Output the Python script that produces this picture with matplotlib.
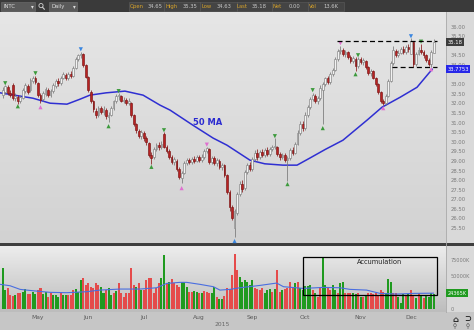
import numpy as np
import pandas as pd
import matplotlib
matplotlib.use("Agg")
import matplotlib.pyplot as plt
from matplotlib.colors import LinearSegmentedColormap
from matplotlib.patches import Rectangle, Circle

# trading days on the chart (US market holidays taken out)
holidays = ["2015-05-25", "2015-07-03", "2015-09-07", "2015-11-26"]
days = pd.bdate_range("2015-04-13", "2015-12-14", freq="C", holidays=holidays)

opens = [32.45, 32.60, 32.85, 32.55, 32.95, 32.30, 32.35, 32.10, 32.30, 32.65,
         32.90, 32.70, 33.15, 33.30, 33.05, 32.45, 32.25, 32.50, 32.70, 32.45,
         32.65, 32.90, 33.15, 33.05, 33.35, 33.50, 33.30, 33.55, 33.45, 33.85,
         34.30, 34.50, 34.60, 34.00, 33.40, 32.60, 32.10, 31.60, 31.40, 31.75,
         31.55, 31.65, 31.30, 31.40, 31.75, 32.10, 32.40, 32.40, 32.15, 32.20,
         32.00, 32.00, 31.40, 30.90, 30.55, 30.30, 30.45, 30.20, 29.95, 29.30,
         29.20, 29.60, 29.85, 29.70, 30.40, 29.75, 29.50, 29.20, 28.95, 29.00,
         28.60, 28.10, 28.35, 28.90, 29.05, 28.95, 29.10, 29.00, 29.20, 29.05,
         29.20, 29.50, 29.60, 28.95, 29.15, 28.90, 29.00, 28.70, 28.80, 28.25,
         27.40, 26.60, 25.50, 26.30, 27.30, 27.80, 27.60, 28.40, 28.80, 28.60,
         29.10, 29.40, 29.20, 29.45, 29.30, 29.55, 29.35, 29.60, 29.70, 29.75,
         29.35, 29.20, 29.30, 29.05, 29.15, 29.55, 29.40, 29.90, 30.45, 30.90,
         30.70, 31.40, 31.80, 32.25, 32.40, 32.10, 32.30, 32.70, 33.00, 33.30,
         33.10, 33.55, 33.75, 34.30, 34.75, 34.80, 34.55, 34.70, 34.40, 34.20,
         34.30, 33.95, 34.30, 34.15, 34.20, 33.90, 33.60, 33.70, 33.35, 33.00,
         32.60, 32.10, 32.00, 32.40, 33.15, 34.10, 34.75, 34.50, 34.65, 34.85,
         34.70, 34.95, 34.60, 35.20, 34.05, 34.60, 34.80, 34.70, 34.50, 34.25,
         34.05, 34.65]
highs = [32.85, 32.95, 32.95, 32.70, 33.05, 32.55, 32.45, 32.45, 32.80, 33.05,
         33.00, 33.30, 33.45, 33.45, 33.10, 32.55, 32.65, 32.85, 32.80, 32.75,
         33.05, 33.25, 33.30, 33.45, 33.65, 33.60, 33.65, 33.70, 33.95, 34.40,
         34.60, 34.70, 34.65, 34.05, 33.45, 32.70, 32.20, 31.75, 31.85, 31.85,
         31.85, 31.75, 31.55, 31.85, 32.20, 32.50, 32.55, 32.45, 32.35, 32.30,
         32.30, 32.05, 31.45, 31.00, 30.65, 30.60, 30.55, 30.30, 30.00, 29.45,
         29.70, 29.95, 30.00, 30.05, 30.50, 29.85, 29.60, 29.30, 29.20, 29.10,
         28.70, 28.45, 29.00, 29.15, 29.15, 29.20, 29.25, 29.30, 29.30, 29.35,
         29.60, 29.72, 29.65, 29.25, 29.25, 29.15, 29.10, 28.90, 28.85, 28.30,
         27.50, 26.70, 26.50, 27.40, 27.95, 28.00, 28.55, 28.90, 28.95, 29.20,
         29.55, 29.60, 29.55, 29.60, 29.65, 29.70, 29.75, 29.85, 30.20, 29.80,
         29.45, 29.40, 29.40, 29.25, 29.65, 29.70, 30.00, 30.60, 31.10, 31.10,
         31.55, 31.90, 32.35, 32.55, 32.50, 32.40, 32.95, 33.10, 33.40, 33.45,
         33.65, 33.85, 34.40, 34.85, 35.00, 34.90, 34.80, 34.75, 34.50, 34.45,
         34.40, 34.40, 34.40, 34.35, 34.25, 33.95, 33.80, 33.75, 33.40, 33.05,
         32.65, 32.25, 32.50, 33.25, 34.20, 35.00, 34.85, 34.80, 34.95, 35.00,
         35.05, 35.10, 35.40, 35.25, 34.70, 34.95, 35.10, 34.80, 34.60, 34.35,
         34.80, 35.35]
lows = [32.30, 32.50, 32.45, 32.35, 32.20, 32.15, 31.95, 32.00, 32.25, 32.55,
        32.50, 32.60, 33.05, 33.00, 32.35, 32.00, 32.15, 32.40, 32.35, 32.35,
        32.55, 32.80, 32.90, 32.95, 33.25, 33.20, 33.20, 33.35, 33.40, 33.80,
        34.20, 34.35, 33.90, 33.30, 32.60, 32.00, 31.55, 31.25, 31.30, 31.45,
        31.40, 31.20, 31.05, 31.35, 31.65, 32.00, 32.20, 32.05, 32.00, 31.90,
        31.90, 31.30, 30.80, 30.45, 30.20, 30.15, 30.05, 29.85, 29.20, 28.85,
        29.10, 29.50, 29.55, 29.60, 29.65, 29.40, 29.10, 28.85, 28.80, 28.50,
        28.05, 27.85, 28.30, 28.80, 28.85, 28.85, 28.90, 28.95, 28.95, 28.95,
        29.10, 29.40, 28.85, 28.85, 28.80, 28.75, 28.60, 28.55, 28.15, 27.30,
        26.40, 25.90, 25.05, 26.20, 27.15, 27.40, 27.50, 28.30, 28.45, 28.50,
        29.00, 29.05, 29.10, 29.20, 29.20, 29.25, 29.25, 29.50, 29.60, 29.25,
        29.05, 29.10, 28.95, 27.95, 29.05, 29.30, 29.35, 29.85, 30.35, 30.55,
        30.60, 31.30, 31.70, 32.15, 32.00, 31.95, 32.20, 30.90, 32.90, 33.00,
        33.00, 33.45, 33.70, 34.20, 34.60, 34.45, 34.40, 34.30, 34.10, 34.10,
        33.70, 33.85, 34.05, 34.00, 33.80, 33.50, 33.45, 33.25, 32.90, 32.50,
        32.00, 31.90, 31.90, 32.35, 33.10, 34.00, 34.40, 34.40, 34.55, 34.60,
        34.60, 34.70, 34.55, 33.90, 33.95, 34.50, 34.60, 34.35, 34.15, 33.95,
        33.90, 34.63]
closes = [32.70, 32.90, 32.55, 32.45, 32.30, 32.40, 32.10, 32.35, 32.70, 32.95,
          32.60, 33.20, 33.35, 33.10, 32.45, 32.20, 32.55, 32.75, 32.45, 32.65,
          32.95, 33.15, 33.05, 33.35, 33.55, 33.30, 33.55, 33.45, 33.85, 34.30,
          34.50, 34.60, 34.00, 33.40, 32.70, 32.10, 31.70, 31.40, 31.75, 31.55,
          31.70, 31.35, 31.40, 31.75, 32.10, 32.40, 32.45, 32.15, 32.20, 32.00,
          32.15, 31.40, 30.90, 30.60, 30.30, 30.50, 30.20, 30.00, 29.30, 29.15,
          29.60, 29.85, 29.70, 29.90, 29.75, 29.50, 29.20, 28.95, 29.10, 28.60,
          28.15, 28.35, 28.90, 29.05, 28.95, 29.10, 29.00, 29.20, 29.05, 29.20,
          29.50, 29.65, 28.95, 29.15, 28.90, 29.05, 28.70, 28.80, 28.25, 27.40,
          26.60, 26.00, 26.40, 27.30, 27.80, 27.55, 28.40, 28.80, 28.60, 29.10,
          29.40, 29.20, 29.45, 29.30, 29.55, 29.35, 29.60, 29.70, 29.80, 29.35,
          29.20, 29.30, 29.05, 29.15, 29.55, 29.40, 29.90, 30.45, 30.90, 30.70,
          31.40, 31.80, 32.25, 32.45, 32.10, 32.30, 32.80, 33.00, 33.30, 33.10,
          33.55, 33.75, 34.30, 34.75, 34.80, 34.55, 34.70, 34.40, 34.20, 34.35,
          33.95, 34.30, 34.15, 34.25, 33.90, 33.60, 33.70, 33.35, 33.00, 32.60,
          32.10, 32.00, 32.40, 33.15, 34.10, 34.80, 34.50, 34.65, 34.85, 34.70,
          34.95, 34.85, 35.25, 34.05, 34.60, 34.80, 34.70, 34.50, 34.25, 34.05,
          34.70, 35.18]

volumes = [62400, 29100, 31700, 21500, 19900, 21500, 24000, 24000, 26600, 30200,
           23000, 23000, 26600, 23000, 29100, 31700, 23000, 26600, 18900, 25100,
           21500, 21500, 17900, 24000, 21500, 21500, 21500, 21500, 29100, 30200,
           26600, 44500, 47100, 36800, 39400, 34300, 31700, 39400, 36800, 33200,
           24000, 29100, 31700, 21500, 24000, 28100, 39400, 25100, 18900, 24000,
           24000, 62400, 36800, 34300, 39400, 29100, 29100, 44500, 47100, 47100,
           24000, 31700, 40400, 47100, 82800, 39400, 41900, 45500, 39400, 36800,
           34300, 41900, 41900, 34300, 26600, 26600, 28100, 26600, 25100, 24000,
           28100, 26600, 24000, 24000, 33200, 18900, 14800, 14800, 19900, 31700,
           30200, 52100, 84400, 59800, 48600,
           41900, 44500, 41900, 36800, 44500, 31700, 30200, 29100, 31700, 24000,
           29100, 30200, 26600, 30200, 59800, 26600, 29100, 30200, 31700, 41900,
           34300, 39400, 41900, 31700, 29100, 35300, 35300, 36800, 29100, 24000,
           18900, 34300, 77700, 36800, 34300, 29100, 36800, 29100, 24000, 39400,
           41900, 24000, 25100, 24000, 24000, 23000, 24000, 18900, 18900, 21500,
           24000, 24000, 23000, 24000, 21500, 29100, 26600, 24000, 45500, 41900,
           24000, 24000, 18900, 8700, 23000, 21500, 23000, 29100, 21500, 16400,
           24000, 19900, 16400, 21500, 18900, 24000, 23000]
# g = up-volume bar, r = down-volume bar
vol_dir = ("ggrrrgrrgg rrggrrggrr gggrggrrrg ggrrrrrrrg grggrgrrrr "
           "rrrgrgrrrr rrrggrgrrr rgggrrggrg rrrggrggrr rrrrg "
           "gggggrrrrg ggrgrrgrrr rgrgggggrg rrggrrggrg grrrggrgrg "
           "rrrrrrrggg rrgggrgrrg rgrgggg").replace(" ", "")

# 50 day moving average
ma_idx = [-1, 12, 18.8, 25.5, 30.7, 34.6, 41, 48.5, 55.7, 62.4, 66.4, 75.5, 83.5,
          89, 98.1, 104, 111.2, 116.8, 121.9, 128, 135, 144.6, 150.5, 157.7,
          164.4, 170.4]
ma_val = [32.55, 32.27, 32.01, 31.96, 32.22, 32.43, 32.55, 32.64, 32.43, 31.91,
          31.65, 30.86, 30.19, 29.82, 29.04, 28.85, 28.78, 28.78, 29.15, 29.60,
          30.08, 31.13, 31.80, 32.32, 32.84, 33.78]

# volume average line
vma_idx = [-1, 2.9, 6.9, 12, 18.8, 25.4, 33.3, 38.6, 46.5, 54.5, 61.1, 65.1, 70.4,
           73, 78.3, 83.6, 86.2, 90.2, 94.2, 102.1, 108.7, 111.4, 119.3, 127.2,
           133.8, 137.8, 144.4, 149.7, 156.3, 162.9, 170.9]
vma_val = [37900, 35800, 30200, 28100, 25600, 25100, 26600, 29100, 30700, 30700,
           32700, 39400, 41000, 41000, 37900, 34300, 29100, 30200, 32700, 36300,
           39900, 34300, 31700, 33200, 32700, 30200, 29100, 24000, 23000, 24000,
           24365]

# swing markers: g green, p pink, b blue
top_idx = [1, 13, 31, 46, 64, 81, 108, 123, 134, 141, 162, 166]
top_px = [33.05, 33.57, 34.82, 32.64, 30.60, 29.85, 30.29, 32.69, 35.14, 34.51, 35.50, 35.22]
top_kind = "ggbggpggpgbg"
bot_idx = [6, 15, 42, 59, 71, 92, 113, 127, 140, 151, 170]
bot_px = [31.85, 31.80, 30.81, 28.69, 27.58, 24.82, 27.79, 30.71, 33.52, 31.75, 33.78]
bot_kind = "gpggpbgggpp"

price_ticks = [36.0, 35.5, 34.5, 34.0, 33.0, 32.5, 32.0, 31.5, 31.0, 30.5, 30.0,
               29.5, 29.0, 28.5, 28.0, 27.5, 27.0, 26.5, 26.0, 25.5]
last_price = 35.18
last_ma = 33.7753
last_vma = 24365
top_line = 35.24
bot_line = 33.90

o = np.array(opens); h = np.array(highs); l = np.array(lows); c = np.array(closes)
x = np.arange(len(days))
up = c >= o
kind_col = {"g": "#3c9a3c", "p": "#e070d0", "b": "#3a86e0"}

fig = plt.figure(figsize=(4.74, 3.30), dpi=100, facecolor="#c6c6c6")

# window chrome in pixel units
bg = fig.add_axes([0, 0, 1, 1])
bg.set_xlim(0, 474); bg.set_ylim(330, 0); bg.axis("off")
bg.add_patch(Rectangle((0, 0), 474, 12.3, fc="#3a3a3a", ec="none"))
bg.add_patch(Rectangle((446, 12.3), 28, 300, fc="#d9d9d9", ec="none"))
bg.add_patch(Rectangle((0, 243), 474, 3.2, fc="#3e3e3e", ec="none"))
bg.plot([446, 446], [12.3, 312], color="#a8a8a8", lw=0.6)
bg.add_patch(Rectangle((1, 2), 34, 8.5, fc="#5a5a5a", ec="#707070", lw=0.4))
bg.text(4, 6.3, "INTC", color="#dddddd", fontsize=3.8, va="center")
bg.text(32, 6.3, "▾", color="#dddddd", fontsize=4, va="center", ha="center")
bg.add_patch(Circle((41, 5.6), 2.1, fc="none", ec="#cfcfcf", lw=0.6))
bg.plot([42.5, 44.3], [7.2, 9.2], color="#cfcfcf", lw=0.8)
bg.add_patch(Rectangle((49, 2), 28, 8.5, fc="#5a5a5a", ec="#707070", lw=0.4))
bg.text(52, 6.3, "Daily", color="#dddddd", fontsize=3.8, va="center")
bg.text(74, 6.3, "▾", color="#dddddd", fontsize=4, va="center", ha="center")
bg.add_patch(Rectangle((129, 1.5), 215, 9, fc="#444444", ec="#5c5c5c", lw=0.4))
for sx in [164, 200, 237, 272, 308]:
    bg.plot([sx, sx], [1.5, 10.5], color="#5c5c5c", lw=0.5)
quote_lbl = ["Open", "High", "Low", "Last", "Net", "Vol"]
quote_val = ["34.65", "35.35", "34.63", "35.18", "0.00", "13.6K"]
lbl_x = [137, 172, 207, 242, 277, 313]
val_x = [155, 190, 224, 259, 295, 331]
for lx, vx, lb, vv in zip(lbl_x, val_x, quote_lbl, quote_val):
    bg.text(lx, 6.2, lb, color="#d9a42a", fontsize=3.8, ha="center", va="center")
    bg.text(vx, 6.2, vv, color="#c8c8c8", fontsize=3.8, ha="center", va="center")
bg.text(222, 324, "2015", color="#666666", fontsize=4.3, ha="center", va="center")
bg.text(3, 251, "Volume", color="#4a8a4a", fontsize=4, va="center")
bg.text(455, 319, "⌂", color="#222222", fontsize=6, ha="center", va="center", fontweight="bold")
bg.text(468, 319, "⊃", color="#222222", fontsize=6, ha="center", va="center", fontweight="bold")
bg.text(455, 326, "⚲", color="#444444", fontsize=4, ha="center", va="center")
bg.text(468, 326, "⚲", color="#444444", fontsize=4, ha="center", va="center")

# price panel
pa = fig.add_axes([0, 87 / 330, 446 / 474, (243 - 12.3) / 330])
xlim = (-1.07, 175.9)
pa.set_xlim(*xlim); pa.set_ylim(24.72, 36.75)
grad = np.linspace(0, 1, 256).reshape(-1, 1)
pa.imshow(grad, extent=[xlim[0], xlim[1], 24.72, 36.75], aspect="auto", zorder=0,
          cmap=LinearSegmentedColormap.from_list("p", ["#e6e6e6", "#d2d2d2"]))
pa.plot(ma_idx, ma_val, color="#2f2fd2", lw=1.1, zorder=2)
wick_col = np.where(up, "#777777", "#8a1a1a")
pa.vlines(x, l, h, colors=wick_col, lw=0.55, zorder=3)
pa.bar(x, np.maximum(np.abs(c - o), 0.03), bottom=np.minimum(o, c), width=0.72,
       color=np.where(up, "#f2f2f2", "#b82222"),
       edgecolor=np.where(up, "#808080", "#7a1515"), linewidth=0.45, zorder=4)
pa.scatter(top_idx, top_px, marker="v", s=9, c=[kind_col[k] for k in top_kind],
           zorder=5, clip_on=False, linewidths=0)
pa.scatter(bot_idx, bot_px, marker="^", s=9, c=[kind_col[k] for k in bot_kind],
           zorder=5, clip_on=False, linewidths=0)
pa.hlines(top_line, 132.5, 172.4, colors="black", linestyles=(0, (4, 2.5)), lw=0.9, zorder=6)
pa.hlines(bot_line, 154.4, 172.4, colors="black", linestyles=(0, (4, 2.5)), lw=0.9, zorder=6)
pa.text(81.5, 31.02, "50 MA", color="#2a2ad0", fontsize=6, fontweight="bold",
        ha="center", va="center", zorder=6)
pa.yaxis.tick_right()
pa.set_yticks(price_ticks)
pa.set_yticklabels([f"{t:.2f}" for t in price_ticks])
pa.tick_params(axis="y", length=0, pad=3, labelsize=3.8, labelcolor="#7a7a7a")
pa.set_xticks([])
for s in pa.spines.values():
    s.set_visible(False)
yt = pa.get_yaxis_transform()
pa.text(1.003, last_price, f"{last_price:.2f}", transform=yt, color="white", fontsize=3.8,
        va="center", ha="left", clip_on=False,
        bbox=dict(boxstyle="square,pad=0.3", fc="#3c3c3c", ec="none"))
pa.text(1.003, last_ma, f"{last_ma:.4f}", transform=yt, color="white", fontsize=3.8,
        va="center", ha="left", clip_on=False,
        bbox=dict(boxstyle="square,pad=0.3", fc="#2727e8", ec="none"))

# volume panel
va = fig.add_axes([0, 18 / 330, 446 / 474, (312 - 246.2) / 330])
va.set_xlim(*xlim); va.set_ylim(-4600, 96600)
va.imshow(grad, extent=[xlim[0], xlim[1], -4600, 96600], aspect="auto", zorder=0,
          cmap=LinearSegmentedColormap.from_list("v", ["#ededed", "#bdbdbd"]))
vcol = ["#1f9a1f" if d == "g" else "#e54b4b" for d in vol_dir]
va.bar(x, volumes, width=0.8, color=vcol, zorder=2)
va.plot(vma_idx, vma_val, color="#4a6ee0", lw=0.8, zorder=3)
va.add_patch(Rectangle((119.2, 21500), 172.3 - 119.2, 79300 - 21500, fill=False,
                       ec="black", lw=0.9, zorder=4))
va.text(149.7, 72500, "Accumulation", color="#222222", fontsize=4.8, ha="center",
        va="center", zorder=5)
month_idx = [i for i in range(1, len(days)) if days[i].month != days[i - 1].month]
va.set_xticks(month_idx)
va.set_xticklabels([days[i].strftime("%b") for i in month_idx])
va.tick_params(axis="x", length=0, pad=2.5, labelsize=4.3, labelcolor="#5a5a5a")
va.yaxis.tick_right()
va.set_yticks([0, 50000, 75000])
va.set_yticklabels(["0", "50000K", "75000K"])
va.tick_params(axis="y", length=0, pad=3, labelsize=3.6, labelcolor="#7a7a7a")
for s in va.spines.values():
    s.set_visible(False)
va.text(1.003, last_vma, f"{last_vma}K", transform=va.get_yaxis_transform(), color="white",
        fontsize=3.6, va="center", ha="left", clip_on=False,
        bbox=dict(boxstyle="square,pad=0.3", fc="#1f9a1f", ec="none"))

fig.savefig("out.png", dpi=100, facecolor=fig.get_facecolor())
